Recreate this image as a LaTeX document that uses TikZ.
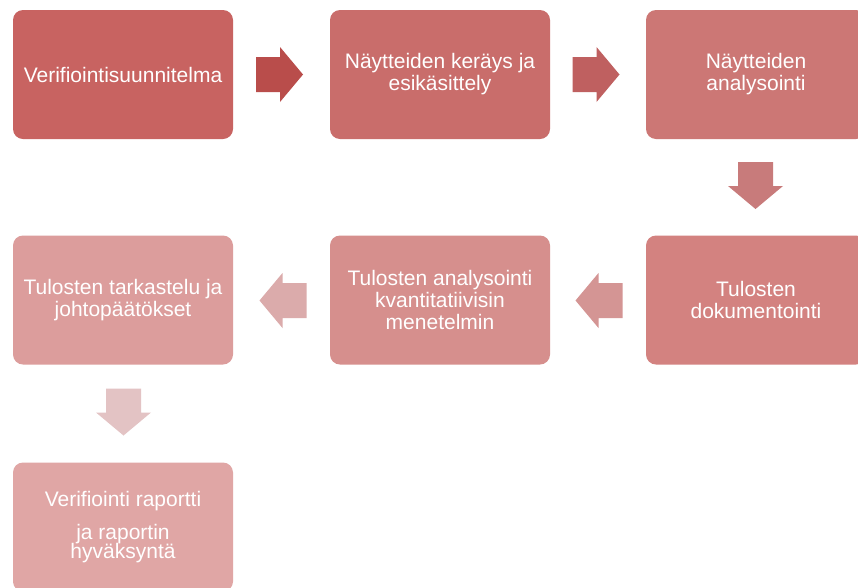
\documentclass[tikz,border=0pt]{standalone}
\usepackage{fontspec}
\setmainfont{Liberation Sans}
\definecolor{cb1}{HTML}{C86361}
\definecolor{cb2}{HTML}{C96D6B}
\definecolor{cb3}{HTML}{CC7775}
\definecolor{cb4}{HTML}{D38280}
\definecolor{cb5}{HTML}{D68F8D}
\definecolor{cb6}{HTML}{DC9D9C}
\definecolor{cb7}{HTML}{E0A6A5}
\definecolor{ca1}{HTML}{B94D4B}
\definecolor{ca2}{HTML}{BF6060}
\definecolor{ca3}{HTML}{C87B7B}
\definecolor{ca4}{HTML}{D49594}
\definecolor{ca5}{HTML}{DBABAB}
\definecolor{ca6}{HTML}{E3C3C4}
\tikzset{
  stepbox/.style={rectangle, rounded corners=10pt, minimum width=220pt, minimum height=129pt,
    inner sep=0pt, align=center, text=white, font=\fontsize{21}{22}\selectfont},
  pics/blockarrow/.style={code={
    \fill[#1] (-23.5,-17.5) -- (0.5,-17.5) -- (0.5,-27.5) -- (23.5,0) -- (0.5,27.5) -- (0.5,17.5) -- (-23.5,17.5) -- cycle;
  }}
}
\begin{document}
\begin{tikzpicture}[x=1pt,y=-1pt]
\useasboundingbox (0,0) rectangle (858,587);
\fill[white] (0,0) rectangle (858,587);
\node[stepbox, fill=cb1] (b1) at (123,74.5) {Verifiointisuunnitelma};
\node[stepbox, fill=cb2] (b2) at (440,74.5) {Näytteiden keräys ja\\esikäsittely};
\node[stepbox, fill=cb3] (b3) at (756,74.5) {Näytteiden\\analysointi};
\node[stepbox, fill=cb4] (b4) at (756,300) {Tulosten\\dokumentointi};
\node[stepbox, fill=cb5] (b5) at (440,300) {Tulosten analysointi\\kvantitatiivisin\\menetelmin};
\node[stepbox, fill=cb6] (b6) at (123,300) {Tulosten tarkastelu ja\\johtopäätökset};
\node[stepbox, fill=cb7] (b7) at (123,527) {Verifiointi raportti\\[11pt]ja raportin\\[-2.5pt]hyväksyntä};
\coordinate (a1) at (279.5,74.5);
\coordinate (a2) at (596,74.5);
\coordinate (a3) at (755.5,185.5);
\coordinate (a4) at (599,300.5);
\coordinate (a5) at (283,300.5);
\coordinate (a6) at (123.5,412);
\pic at (a1) {blockarrow=ca1};
\pic at (a2) {blockarrow=ca2};
\pic[rotate=-90] at (a3) {blockarrow=ca3};
\pic[rotate=180] at (a4) {blockarrow=ca4};
\pic[rotate=180] at (a5) {blockarrow=ca5};
\pic[rotate=-90] at (a6) {blockarrow=ca6};
\end{tikzpicture}
\end{document}
